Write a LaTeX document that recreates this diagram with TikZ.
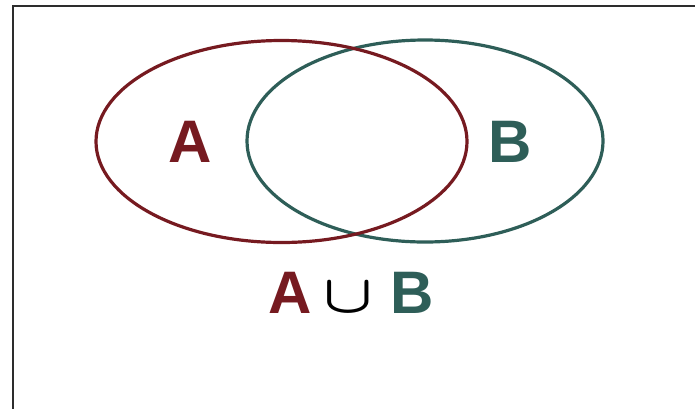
\documentclass[tikz,border=0pt]{standalone}
\usepackage{graphicx}
\usepackage{fontspec}
\setmainfont{Liberation Sans}
\definecolor{setred}{RGB}{118,26,32}
\definecolor{setteal}{RGB}{46,94,88}
\definecolor{framegray}{RGB}{45,45,45}
\usetikzlibrary{shapes.geometric,positioning}

\begin{document}
\begin{tikzpicture}[x=1pt,y=-1pt,
  setring/.style={ellipse, line width=3.2pt, inner sep=0pt},
  setlbl/.style={font=\fontsize{60}{60}\selectfont\bfseries, inner sep=0pt, anchor=base}]
\useasboundingbox (0,0) rectangle (695,408);

% Frame (runs off the page on the right and bottom)
\draw[line width=2.2pt, framegray] (13,420) -- (13,6) -- (710,6);

% Set B first, set A drawn on top
\node[setring, draw=setteal, minimum width=356pt, minimum height=202pt] (setB) at (425,141) {};
\node[setring, draw=setred, minimum width=371pt, minimum height=202pt] (setA) at (281.5,141.5) {};

% Set labels
\node[setlbl, setred] (labA) at (190,162) {A};
\node[setlbl, setteal] (labB) at (510,162) {B};

% Union below
\node[setlbl, black] (cupsym) at (348,312) {\scalebox{2.6}[2.15]{\boldmath$\cup$}};
\node[setlbl, setred] (uniA) at (290,313) {A};
\node[setlbl, setteal] (uniB) at (412,313) {B};
\end{tikzpicture}
\end{document}
